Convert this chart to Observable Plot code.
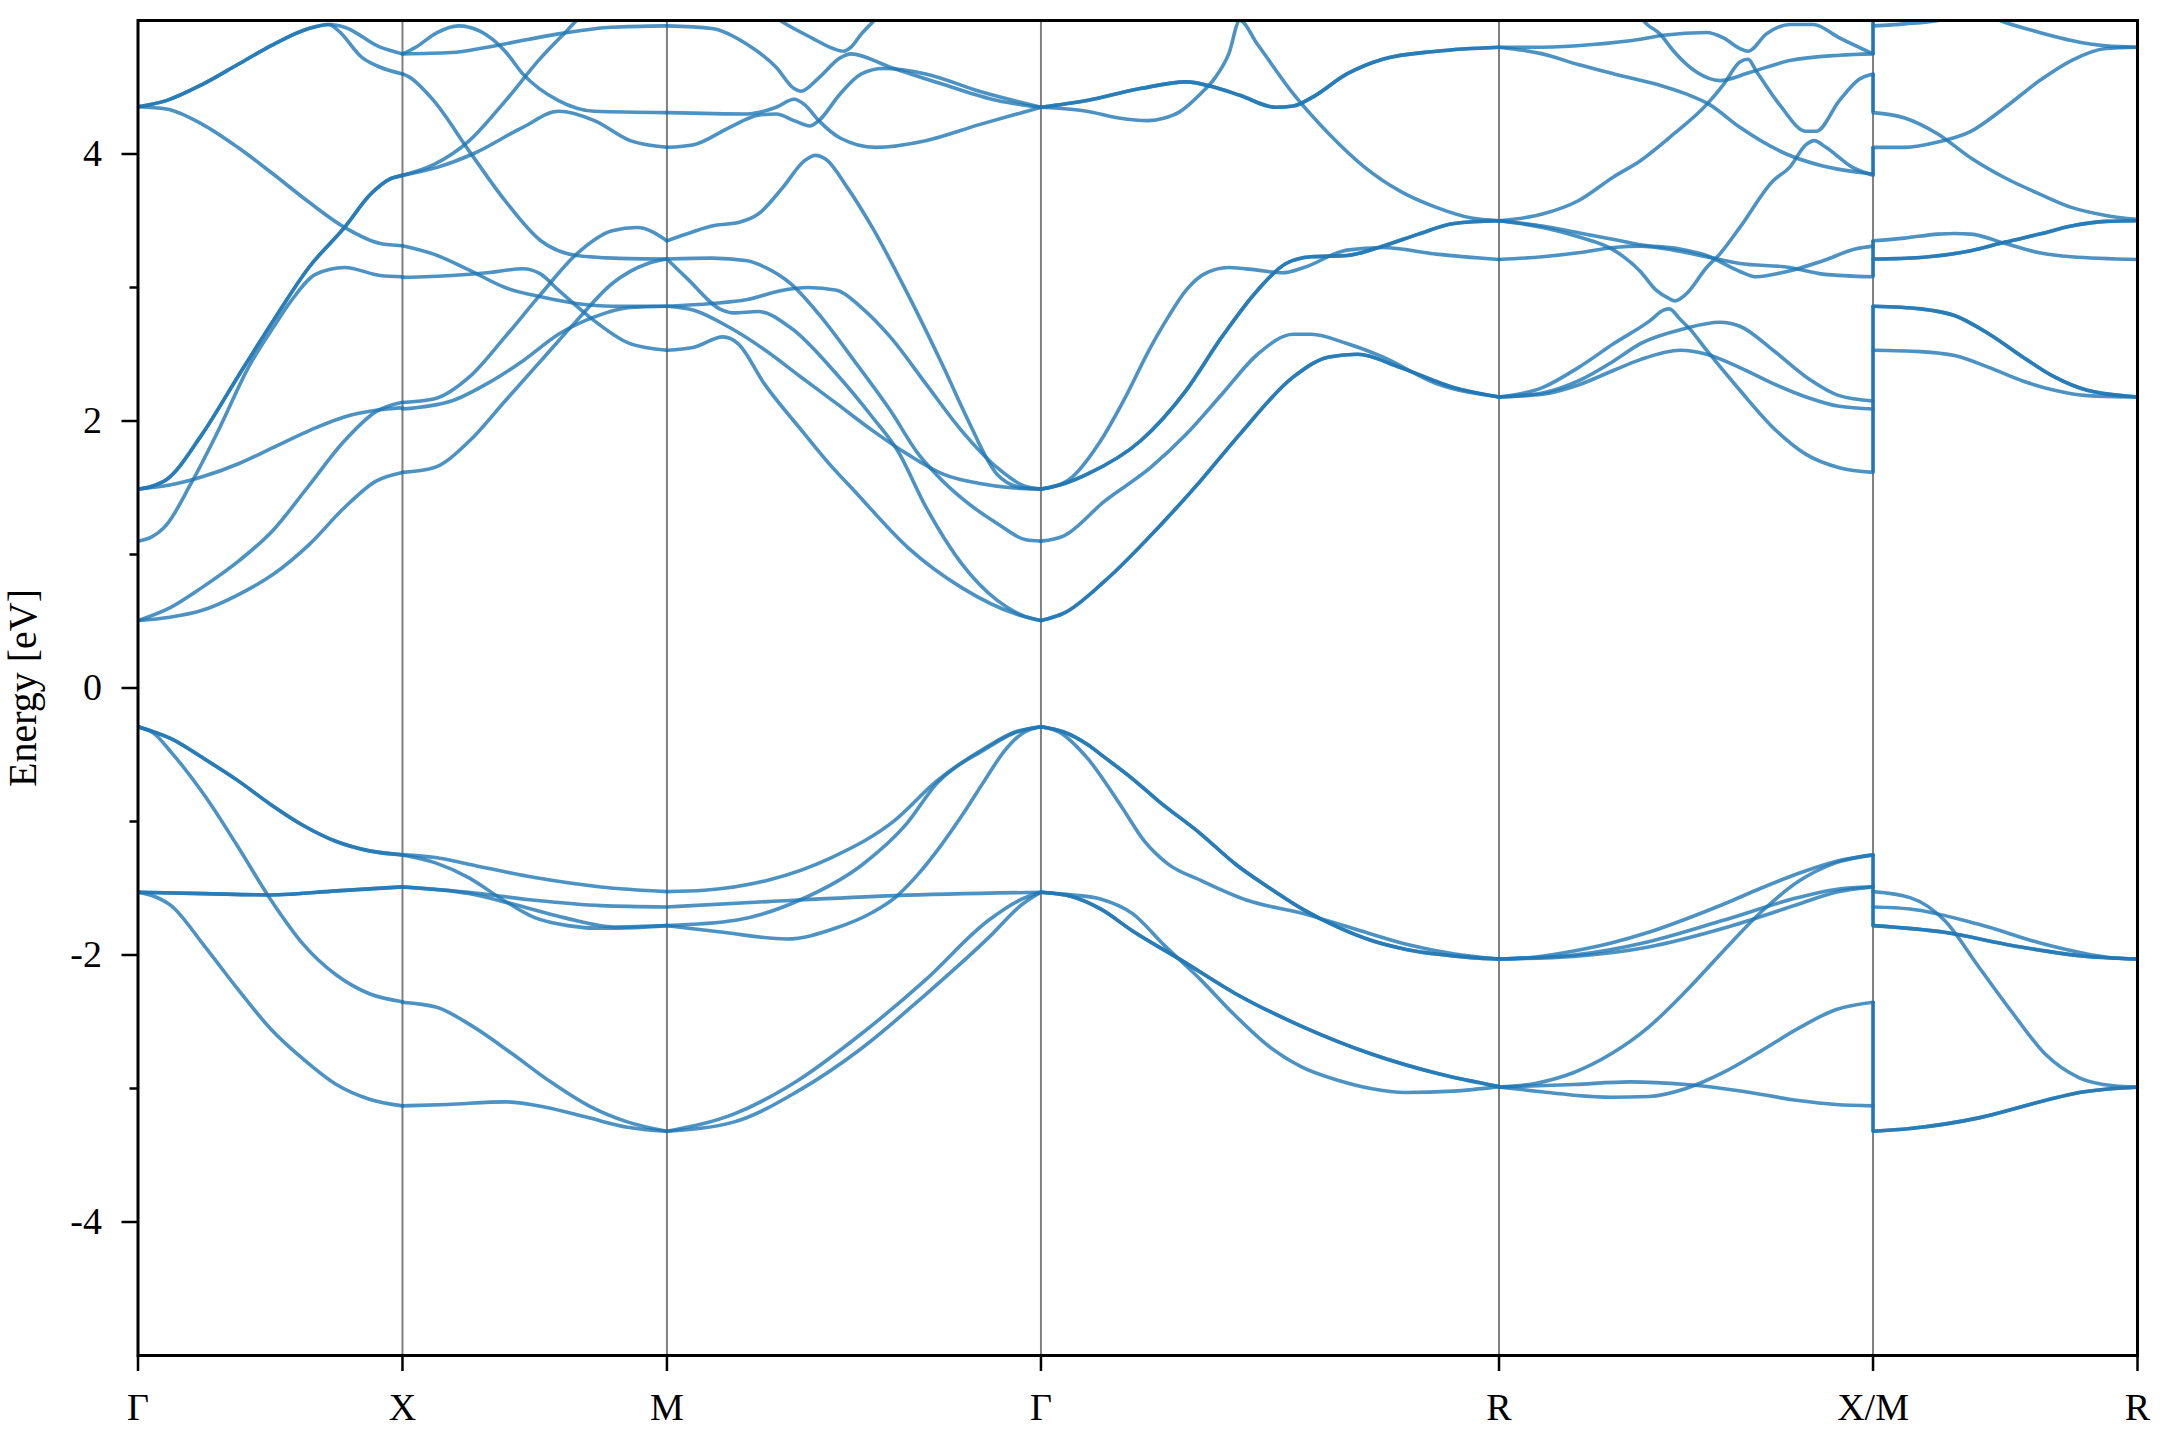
<!DOCTYPE html>
<html>
<head>
<meta charset="utf-8">
<script src="https://cdn.jsdelivr.net/npm/d3@7"></script>
<script src="https://cdn.jsdelivr.net/npm/@observablehq/plot@0.6"></script>
<style>
  html, body { margin: 0; padding: 0; background: #fff; }
  #chart svg { display: block; }
</style>
</head>
<body>
<div id="chart"></div>
<script>
// High-symmetry points along the path (cumulative |k|)
const kTicks = [0, 0.5, 1.0, 1.7071, 2.5731, 3.2802, 3.7802];
const kLabels = ["Γ", "X", "M", "Γ", "R", "X/M", "R"];
const yMajor = [-4, -2, 0, 2, 4];
const yMinor = [-3, -1, 1, 3];

// Each band: n = how many coincident bands, e = [fraction along segment, energy eV]
// ---- valence ----
const valenceGX = [
  {n: 2, e: [[0,-0.29],[.125,-0.38],[.25,-0.53],[.375,-0.69],[.5,-0.87],[.625,-1.03],[.75,-1.15],[.875,-1.22],[1,-1.25]]},
  {n: 1, e: [[0,-0.29],[.06,-0.34],[.125,-0.48],[.25,-0.80],[.375,-1.18],[.5,-1.58],[.625,-1.92],[.75,-2.15],[.875,-2.29],[1,-2.35]]},
  {n: 2, e: [[0,-1.53],[.25,-1.54],[.5,-1.55],[.75,-1.52],[1,-1.49]]},
  {n: 1, e: [[0,-1.53],[.06,-1.56],[.125,-1.63],[.25,-1.93],[.375,-2.25],[.5,-2.55],[.625,-2.78],[.75,-2.97],[.875,-3.08],[1,-3.13]]}
];
const valenceXM = [
  {n: 1, e: [[0,-1.25],[.125,-1.27],[.25,-1.32],[.5,-1.42],[.75,-1.49],[1,-1.525]]},
  {n: 1, e: [[0,-1.25],[.125,-1.31],[.25,-1.42],[.375,-1.58],[.5,-1.72],[.625,-1.78],[.75,-1.80],[.875,-1.795],[1,-1.78]]},
  {n: 1, e: [[0,-1.49],[.25,-1.53],[.5,-1.59],[.75,-1.63],[1,-1.64]]},
  {n: 1, e: [[0,-1.49],[.25,-1.54],[.42,-1.62],[.61,-1.72],[.8,-1.79],[1,-1.78]]},
  {n: 1, e: [[0,-2.355],[.126,-2.39],[.27,-2.54],[.415,-2.74],[.56,-2.95],[.705,-3.13],[.85,-3.25],[1,-3.32]]},
  {n: 1, e: [[0,-3.13],[.17,-3.12],[.39,-3.10],[.54,-3.14],[.705,-3.22],[.85,-3.29],[1,-3.32]]}
];
const valenceMG = [
  {n: 1, e: [[0,-1.525],[.1,-1.515],[.27,-1.44],[.44,-1.27],[.61,-0.99],[.72,-0.70],[.85,-0.45],[.93,-0.33],[1,-0.29]]},
  {n: 1, e: [[0,-1.78],[.184,-1.74],[.354,-1.59],[.524,-1.32],[.64,-1.02],[.72,-0.72],[.85,-0.46],[.93,-0.335],[1,-0.29]]},
  {n: 1, e: [[0,-1.78],[.15,-1.83],[.32,-1.88],[.45,-1.80],[.55,-1.68],[.61,-1.57],[.67,-1.40],[.73,-1.19],[.79,-0.95],[.85,-0.69],[.9,-0.48],[.95,-0.34],[1,-0.29]]},
  {n: 1, e: [[0,-1.64],[.27,-1.60],[.61,-1.555],[1,-1.53]]},
  {n: 1, e: [[0,-3.32],[.18,-3.19],[.35,-2.94],[.52,-2.59],[.69,-2.19],[.86,-1.74],[.95,-1.58],[1,-1.53]]},
  {n: 1, e: [[0,-3.32],[.18,-3.25],[.35,-3.02],[.52,-2.70],[.69,-2.30],[.86,-1.87],[.95,-1.62],[1,-1.53]]}
];
const valenceGR = [
  {n: 2, e: [[0,-0.29],[.05,-0.33],[.1,-0.42],[.139,-0.52],[.2,-0.68],[.256,-0.845],[.348,-1.09],[.425,-1.32],[.5,-1.50],[.573,-1.66],[.647,-1.79],[.72,-1.89],[.8,-1.96],[.868,-1.995],[.94,-2.02],[1,-2.03]]},
  {n: 1, e: [[0,-0.29],[.04,-0.33],[.1,-0.52],[.177,-0.895],[.225,-1.144],[.277,-1.318],[.35,-1.443],[.45,-1.59],[.573,-1.69],[.68,-1.80],[.795,-1.917],[.9,-1.99],[1,-2.03]]},
  {n: 2, e: [[0,-1.53],[.065,-1.56],[.13,-1.655],[.2,-1.82],[.307,-2.04],[.425,-2.29],[.573,-2.54],[.72,-2.74],[.868,-2.89],[1,-2.986]]},
  {n: 1, e: [[0,-1.53],[.07,-1.55],[.13,-1.58],[.2,-1.69],[.27,-1.93],[.35,-2.19],[.42,-2.44],[.5,-2.69],[.57,-2.84],[.65,-2.94],[.72,-3.0],[.795,-3.03],[.9,-3.02],[1,-2.986]]}
];
const valenceRX = [
  {n: 1, e: [[0,-2.03],[.1,-2.015],[.2,-1.97],[.3,-1.91],[.4,-1.83],[.5,-1.73],[.6,-1.62],[.7,-1.50],[.8,-1.39],[.9,-1.30],[1,-1.25]]},
  {n: 1, e: [[0,-2.03],[.2,-2.00],[.4,-1.90],[.6,-1.74],[.8,-1.57],[.9,-1.51],[1,-1.49]]},
  {n: 1, e: [[0,-2.03],[.2,-2.01],[.4,-1.94],[.6,-1.80],[.8,-1.62],[.9,-1.53],[1,-1.49]]},
  {n: 1, e: [[0,-2.99],[.1,-2.96],[.2,-2.88],[.3,-2.74],[.4,-2.54],[.5,-2.27],[.6,-1.97],[.7,-1.68],[.8,-1.45],[.9,-1.31],[1,-1.25]]},
  {n: 1, e: [[0,-2.99],[.1,-3.02],[.2,-3.05],[.3,-3.065],[.4,-3.06],[.5,-3.0],[.6,-2.88],[.7,-2.72],[.8,-2.55],[.9,-2.41],[1,-2.354]]},
  {n: 1, e: [[0,-2.99],[.2,-2.97],[.35,-2.95],[.5,-2.97],[.65,-3.02],[.8,-3.09],[.9,-3.12],[1,-3.13]]}
];
const valenceMR = [
  {n: 1, e: [[0,-1.525],[.14,-1.57],[.27,-1.74],[.4,-2.09],[.53,-2.44],[.65,-2.74],[.78,-2.92],[.91,-2.98],[1,-2.99]]},
  {n: 1, e: [[0,-1.64],[.14,-1.655],[.4,-1.77],[.65,-1.92],[.9,-2.02],[1,-2.03]]},
  {n: 2, e: [[0,-1.78],[.27,-1.83],[.53,-1.93],[.78,-2.005],[1,-2.03]]},
  {n: 2, e: [[0,-3.32],[.14,-3.30],[.4,-3.22],[.65,-3.09],[.78,-3.03],[1,-2.99]]}
];

// ---- conduction ----
const conductionGX = [
  {n: 1, e: [[0,.505],[.12,.53],[.24,.58],[.38,.70],[.51,.85],[.65,1.08],[.78,1.35],[.9,1.55],[1,1.615]]},
  {n: 1, e: [[0,.505],[.12,.60],[.24,.75],[.38,.95],[.51,1.18],[.64,1.50],[.78,1.85],[.9,2.07],[1,2.14]]},
  {n: 1, e: [[0,1.10],[.05,1.13],[.107,1.22],[.2,1.53],[.309,1.95],[.417,2.40],[.511,2.70],[.579,2.90],[.673,3.10],[.781,3.15],[.916,3.09],[1,3.08]]},
  {n: 2, e: [[0,1.49],[.05,1.51],[.107,1.56],[.242,1.90],[.377,2.33],[.511,2.75],[.646,3.15],[.781,3.45],[.88,3.70],[.95,3.81],[1,3.84]]},
  {n: 1, e: [[0,1.49],[.12,1.52],[.24,1.58],[.38,1.68],[.51,1.80],[.65,1.93],[.78,2.03],[.9,2.08],[1,2.10]]},
  {n: 1, e: [[0,4.354],[.107,4.337],[.242,4.224],[.377,4.05],[.511,3.85],[.646,3.64],[.781,3.45],[.916,3.33],[1,3.313]]},
  {n: 1, e: [[0,4.354],[.107,4.40],[.242,4.52],[.377,4.67],[.511,4.82],[.646,4.94],[.727,4.97],[.781,4.95],[.916,4.80],[1,4.75]]},
  {n: 1, e: [[0,4.354],[.107,4.40],[.242,4.52],[.377,4.67],[.511,4.82],[.646,4.94],[.72,4.97],[.754,4.93],[.849,4.72],[.916,4.65],[1,4.60]]}
];
const conductionXM = [
  {n: 1, e: [[0,4.75],[.185,4.76],[.32,4.80],[.59,4.90],[.79,4.95],[1,4.96]]},
  {n: 1, e: [[0,4.75],[.05,4.80],[.131,4.91],[.212,4.96],[.293,4.92],[.388,4.77],[.455,4.60],[.59,4.40],[.726,4.32],[1,4.31]]},
  {n: 1, e: [[0,4.60],[.023,4.58],[.118,4.40],[.253,4.02],[.388,3.65],[.523,3.35],[.658,3.24],[.8,3.22],[1,3.213]]},
  {n: 1, e: [[0,3.84],[.118,3.92],[.253,4.10],[.39,4.40],[.523,4.72],[.62,4.92],[.7,5.08],[.75,5.15],[1,5.4]]},
  {n: 1, e: [[0,3.84],[.131,3.90],[.266,4.0],[.455,4.20],[.59,4.32],[.726,4.25],[.861,4.10],[1,4.05]]},
  {n: 1, e: [[0,3.313],[.118,3.25],[.253,3.13],[.388,3.0],[.523,2.93],[.658,2.88],[.793,2.86],[1,2.86]]},
  {n: 1, e: [[0,3.076],[.185,3.09],[.32,3.11],[.455,3.14],[.523,3.10],[.59,2.98],[.726,2.75],[.86,2.58],[1,2.53]]},
  {n: 1, e: [[0,2.139],[.118,2.164],[.253,2.33],[.388,2.63],[.523,2.95],[.658,3.25],[.793,3.425],[.888,3.45],[1,3.35]]},
  {n: 1, e: [[0,2.09],[.185,2.15],[.32,2.28],[.455,2.45],[.59,2.65],[.726,2.78],[.86,2.85],[1,2.86]]},
  {n: 1, e: [[0,1.615],[.118,1.65],[.253,1.85],[.388,2.15],[.523,2.45],[.658,2.75],[.793,3.03],[.928,3.18],[1,3.213]]}
];
const conductionMG = [
  {n: 1, e: [[0,4.96],[.12,4.94],[.215,4.82],[.292,4.65],[.34,4.49],[.358,4.47],[.406,4.57],[.463,4.72],[.492,4.75],[.597,4.65],[.74,4.52],[.883,4.40],[1,4.35]]},
  {n: 1, e: [[0,5.4],[.2,5.2],[.311,4.985],[.387,4.87],[.444,4.79],[.473,4.77],[.492,4.80],[.52,4.90],[.549,4.985],[.65,5.3],[1,5.6]]},
  {n: 1, e: [[0,4.31],[.215,4.30],[.292,4.35],[.34,4.41],[.368,4.37],[.406,4.25],[.463,4.12],[.558,4.05],[.692,4.10],[.835,4.22],[1,4.35]]},
  {n: 1, e: [[0,4.05],[.072,4.07],[.168,4.20],[.244,4.29],[.292,4.30],[.34,4.25],[.382,4.21],[.406,4.25],[.463,4.45],[.52,4.60],[.578,4.64],[.692,4.60],[.835,4.47],[1,4.35]]},
  {n: 1, e: [[0,3.35],[.072,3.42],[.12,3.46],[.196,3.49],[.244,3.55],[.31,3.75],[.368,3.95],[.397,3.99],[.425,3.96],[.482,3.75],[.549,3.45],[.644,2.95],[.74,2.40],[.806,2.00],[.883,1.60],[.95,1.50],[1,1.49]]},
  {n: 1, e: [[0,3.213],[.12,3.22],[.215,3.20],[.263,3.15],[.33,3.03],[.406,2.80],[.501,2.45],[.597,2.08],[.673,1.75],[.72,1.60],[.789,1.42],[.884,1.23],[.96,1.11],[1,1.10]]},
  {n: 1, e: [[0,3.213],[.053,3.07],[.148,2.83],[.177,2.81],[.244,2.82],[.33,2.70],[.454,2.35],[.549,2.03],[.617,1.777],[.693,1.353],[.789,.928],[.884,.654],[.98,.516],[1,.505]]},
  {n: 1, e: [[0,2.86],[.12,2.88],[.215,2.91],[.31,2.98],[.377,3.0],[.454,2.98],[.52,2.85],[.597,2.63],[.692,2.28],[.787,1.93],[.883,1.65],[.95,1.52],[1,1.49]]},
  {n: 1, e: [[0,2.86],[.072,2.83],[.168,2.70],[.263,2.53],[.358,2.33],[.454,2.13],[.549,1.93],[.644,1.75],[.74,1.60],[.84,1.53],[.92,1.50],[1,1.49]]},
  {n: 1, e: [[0,2.53],[.07,2.55],[.15,2.63],[.19,2.58],[.26,2.28],[.36,1.93],[.44,1.66],[.5,1.48],[.645,1.05],[.789,.75],[.932,.555],[1,.505]]}
];
const conductionGR = [
  {n: 1, e: [[0,4.35],[.1,4.32],[.17,4.27],[.233,4.25],[.27,4.27],[.30,4.31],[.348,4.45],[.38,4.57],[.41,4.75],[.434,5.0],[.473,4.82],[.551,4.45],[.629,4.15],[.707,3.90],[.785,3.72],[.863,3.60],[.94,3.52],[1,3.50]]},
  {n: 2, e: [[0,4.35],[.1,4.40],[.217,4.49],[.317,4.54],[.379,4.50],[.434,4.44],[.512,4.35],[.551,4.36],[.59,4.42],[.668,4.60],[.746,4.71],[.863,4.77],[1,4.80]]},
  {n: 2, e: [[0,.505],[.05,.56],[.139,.80],[.25,1.18],[.348,1.55],[.434,1.90],[.551,2.33],[.629,2.48],[.691,2.50],[.785,2.40],[.902,2.25],[1,2.18]]},
  {n: 1, e: [[0,1.10],[.05,1.14],[.139,1.40],[.239,1.65],[.317,1.90],[.395,2.20],[.473,2.50],[.551,2.65],[.59,2.65],[.668,2.58],[.746,2.48],[.863,2.28],[1,2.18]]},
  {n: 1, e: [[0,1.49],[.03,1.51],[.061,1.56],[.13,1.85],[.18,2.15],[.239,2.55],[.278,2.78],[.317,2.98],[.356,3.10],[.41,3.15],[.473,3.13],[.527,3.11],[.574,3.15],[.668,3.28],[.746,3.30],[.863,3.25],[1,3.21]]},
  {n: 2, e: [[0,1.49],[.05,1.53],[.1,1.60],[.217,1.85],[.317,2.23],[.395,2.63],[.473,2.98],[.535,3.18],[.59,3.23],[.668,3.24],[.746,3.31],[.824,3.40],[.902,3.48],[1,3.50]]}
];
const conductionRX = [
  {n: 1, e: [[0,4.80],[.116,4.80],[.25,4.82],[.378,4.86],[.44,4.89],[.555,4.91],[.6,4.87],[.644,4.79],[.666,4.77],[.715,4.90],[.777,4.97],[.84,4.97],[.91,4.87],[1,4.75]]},
  {n: 1, e: [[0,5.6],[.2,5.5],[.33,5.2],[.396,4.97],[.43,4.90],[.467,4.77],[.53,4.61],[.59,4.55],[.67,4.61],[.777,4.70],[.91,4.74],[1,4.75]]},
  {n: 1, e: [[0,4.80],[.116,4.75],[.212,4.67],[.307,4.60],[.424,4.52],[.5,4.45],[.563,4.37],[.644,4.20],[.768,4.0],[.866,3.91],[1,3.85]]},
  {n: 1, e: [[0,3.50],[.116,3.55],[.212,3.65],[.307,3.83],[.378,3.95],[.467,4.15],[.555,4.37],[.6,4.52],[.644,4.69],[.666,4.71],[.688,4.62],[.75,4.37],[.821,4.17],[.848,4.17],[.91,4.40],[.963,4.56],[1,4.60]]},
  {n: 1, e: [[0,3.21],[.116,3.23],[.212,3.26],[.307,3.30],[.378,3.31],[.467,3.28],[.555,3.23],[.644,3.18],[.777,3.15],[.866,3.10],[1,3.08]]},
  {n: 1, e: [[0,3.50],[.116,3.45],[.212,3.38],[.307,3.28],[.378,3.12],[.42,2.98],[.453,2.92],[.47,2.90],[.5,2.95],[.555,3.15],[.59,3.25],[.644,3.45],[.733,3.80],[.777,3.90],[.821,4.07],[.843,4.10],[.874,4.05],[.945,3.90],[1,3.84]]},
  {n: 1, e: [[0,2.18],[.116,2.25],[.212,2.40],[.307,2.58],[.403,2.75],[.44,2.83],[.455,2.84],[.485,2.76],[.51,2.69],[.555,2.53],[.644,2.23],[.733,1.95],[.821,1.75],[.91,1.65],[1,1.615]]},
  {n: 1, e: [[0,2.18],[.116,2.21],[.212,2.30],[.307,2.45],[.378,2.58],[.493,2.69],[.59,2.74],[.644,2.71],[.733,2.53],[.821,2.33],[.91,2.19],[1,2.15]]},
  {n: 1, e: [[0,2.18],[.116,2.20],[.212,2.27],[.307,2.38],[.378,2.46],[.485,2.53],[.555,2.50],[.644,2.40],[.733,2.28],[.821,2.18],[.91,2.11],[1,2.09]]},
  {n: 1, e: [[0,3.50],[.116,3.46],[.212,3.41],[.307,3.36],[.378,3.32],[.48,3.29],[.555,3.24],[.644,3.12],[.688,3.08],[.755,3.11],[.866,3.20],[.955,3.29],[1,3.31]]}
];
const conductionMR = [
  {n: 1, e: [[0,4.96],[.12,4.975],[.245,5.0],[.33,5.05],[.42,5.04],[.5,4.985],[.63,4.91],[.75,4.85],[.88,4.81],[1,4.80]]},
  {n: 1, e: [[0,4.31],[.12,4.27],[.245,4.15],[.37,3.97],[.5,3.82],[.63,3.70],[.75,3.60],[.88,3.54],[1,3.51]]},
  {n: 1, e: [[0,4.05],[.12,4.05],[.245,4.09],[.37,4.17],[.5,4.35],[.63,4.55],[.75,4.70],[.88,4.79],[1,4.80]]},
  {n: 1, e: [[0,3.35],[.12,3.37],[.245,3.40],[.308,3.405],[.37,3.40],[.5,3.33],[.63,3.26],[.75,3.23],[1,3.21]]},
  {n: 2, e: [[0,3.213],[.18,3.225],[.37,3.275],[.5,3.34],[.63,3.40],[.75,3.46],[.88,3.495],[1,3.50]]},
  {n: 2, e: [[0,2.86],[.18,2.84],[.308,2.79],[.44,2.65],[.566,2.48],[.686,2.33],[.81,2.23],[1,2.18]]},
  {n: 1, e: [[0,2.53],[.18,2.52],[.308,2.49],[.44,2.40],[.566,2.30],[.686,2.23],[.81,2.19],[1,2.18]]}
];

// Vertical joins drawn at the X|M discontinuity [from, to] in eV
const xmJumps = [[-3.32,-2.35],[-1.78,-1.25],[1.615,2.86],[3.08,3.35],[3.84,4.05],[4.31,4.60],[4.75,5.0]];

// ---- build rows ----
const segmentBands = [
  valenceGX.concat(conductionGX),
  valenceXM.concat(conductionXM),
  valenceMG.concat(conductionMG),
  valenceGR.concat(conductionGR),
  valenceRX.concat(conductionRX),
  valenceMR.concat(conductionMR)
];
const rows = [];
let id = 0;
segmentBands.forEach((bands, s) => {
  const k0 = kTicks[s], k1 = kTicks[s + 1];
  for (const band of bands) {
    for (let c = 0; c < band.n; c++) {
      for (const [f, e] of band.e) rows.push({k: k0 + f * (k1 - k0), E: e, id});
      id++;
    }
  }
});

const labelOf = new Map(kTicks.map((k, i) => [k, kLabels[i]]));
const fmtY = d => (d < 0 ? "-" + Math.abs(d) : String(d));
const FONT = 38;

const chart = Plot.plot({
  width: 2160,
  height: 1440,
  marginLeft: 137.5,
  marginRight: 23,
  marginTop: 20,
  marginBottom: 85,
  style: {fontFamily: "'Liberation Serif', 'Times New Roman', serif", fontSize: FONT + "px", background: "#fff"},
  x: {domain: [kTicks[0], kTicks[kTicks.length - 1]]},
  y: {domain: [-5, 5]},
  marks: [
    Plot.ruleX(kTicks.slice(1, -1), {stroke: "#808080", strokeWidth: 2}),
    Plot.line(rows, {x: "k", y: "E", z: "id", stroke: "#1f77b4", strokeOpacity: 0.8, strokeWidth: 3.6, curve: "monotone-x", clip: true}),
    Plot.ruleX(xmJumps, {x: () => kTicks[5], y1: d => d[0], y2: d => d[1], stroke: "#1f77b4", strokeWidth: 3.6, clip: true}),
    Plot.frame({stroke: "#000", strokeWidth: 3}),
    Plot.axisY(yMajor, {anchor: "left", tickSize: 16, tickPadding: 20, strokeWidth: 2.5, tickFormat: fmtY, fontSize: FONT, label: null}),
    Plot.axisY(yMinor, {anchor: "left", tickSize: 8, strokeWidth: 2.5, tickFormat: () => "", label: null}),
    Plot.axisX(kTicks, {anchor: "bottom", tickSize: 16, tickPadding: 22, strokeWidth: 2.5, tickFormat: d => labelOf.get(d), fontSize: FONT, label: null}),
    Plot.text(["Energy [eV]"], {frameAnchor: "left", dx: -115, rotate: -90, textAnchor: "middle", lineAnchor: "middle", fontSize: 40, fill: "#000"})
  ]
});
document.getElementById("chart").appendChild(chart);
</script>
</body>
</html>
